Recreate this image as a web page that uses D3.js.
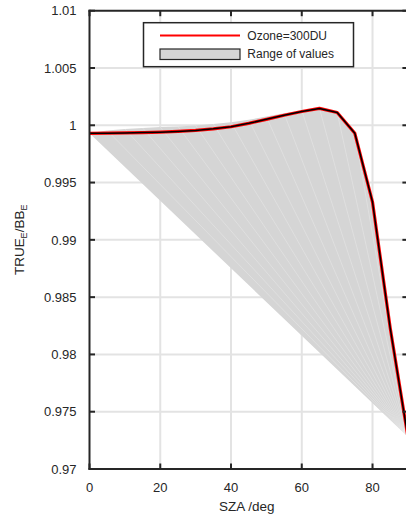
<!DOCTYPE html>
<html>
<head>
<meta charset="utf-8">
<script src="https://cdn.jsdelivr.net/npm/d3@7"></script>
<style>
  html, body { margin: 0; padding: 0; background: #fff; }
  svg { display: block; font-family: "Liberation Sans", Arial, Helvetica, sans-serif; }
</style>
</head>
<body>
<div id="chart"></div>
<script>
// ---- data ----
const sza = [0, 5, 10, 15, 20, 25, 30, 35, 40, 45, 50, 55, 60, 65, 70, 75, 80, 85, 90];
const ozone300 = [0.9993, 0.99931, 0.99933, 0.99936, 0.9994, 0.99946, 0.99955, 0.99969, 0.99987,
                  1.00017, 1.00052, 1.00088, 1.0012, 1.00147, 1.00112, 0.9993, 0.9933, 0.9823, 0.9728];
const rangeUpper = [0.9993, 0.99955, 0.99968, 0.99977, 0.99984, 0.9999, 0.99999, 1.00011, 1.00027,
                    1.00049, 1.00076, 1.00104, 1.0013, 1.00149, 1.00112, 0.9993, 0.9933, 0.9823, 0.9728];
const rangeLowerSza = [0, 90];
const rangeLower = [0.9993, 0.9728];
const xTicks = [0, 20, 40, 60, 80];
const yTicks = [0.97, 0.975, 0.98, 0.985, 0.99, 0.995, 1, 1.005, 1.01];
const yTickLabels = ["0.97", "0.975", "0.98", "0.985", "0.99", "0.995", "1", "1.005", "1.01"];
const legendLabels = ["Ozone=300DU", "Range of values"];

(function () {
// ---- layout ----
const W = 406, H = 517;
const pL = 89.5, pR = 407.9, pT = 10.7, pB = 469;
const axisColor = "#262626", gridColor = "#e3e3e3", fillColor = "#d5d5d5";

const x = d3.scaleLinear().domain([0, 90]).range([pL, pR]);
const y = d3.scaleLinear().domain([0.97, 1.01]).range([pB, pT]);

const svg = d3.select("#chart").append("svg").attr("width", W).attr("height", H);
svg.append("defs").append("clipPath").attr("id", "clip")
  .append("rect").attr("x", pL).attr("y", pT).attr("width", pR - pL).attr("height", pB - pT);

// grid
const grid = svg.append("g");
grid.selectAll(".gx").data(xTicks.filter(d => d > 0)).enter().append("line")
  .attr("x1", d => x(d)).attr("x2", d => x(d)).attr("y1", pT).attr("y2", pB)
  .attr("stroke", gridColor).attr("stroke-width", 2);
grid.selectAll(".gy").data(yTicks.filter(d => d > 0.97 && d < 1.01)).enter().append("line")
  .attr("x1", pL).attr("x2", pR).attr("y1", d => y(d)).attr("y2", d => y(d))
  .attr("stroke", gridColor).attr("stroke-width", 2);

const plot = svg.append("g").attr("clip-path", "url(#clip)");

// range polygon
const upperPts = sza.map((s, i) => [s, rangeUpper[i]]);
const lowerPts = rangeLowerSza.map((s, i) => [s, rangeLower[i]]).reverse();
const poly = upperPts.concat(lowerPts);
const line = d3.line().x(d => x(d[0])).y(d => y(d[1]));
plot.append("path").attr("d", line(poly) + "Z").attr("fill", fillColor).attr("stroke", "none");

// triangulation seams (fan from last lower vertex)
const apex = [rangeLowerSza[rangeLowerSza.length - 1], rangeLower[rangeLower.length - 1]];
plot.selectAll(".seam").data(upperPts.slice(1, upperPts.length - 1)).enter().append("line")
  .attr("x1", x(apex[0])).attr("y1", y(apex[1]))
  .attr("x2", d => x(d[0])).attr("y2", d => y(d[1]))
  .attr("stroke", "#ffffff").attr("stroke-opacity", 0.35).attr("stroke-width", 0.7);

// ozone curve
const ozPts = sza.map((s, i) => [s, ozone300[i]]);
plot.append("path").attr("d", line(ozPts)).attr("fill", "none")
  .attr("stroke", "#ff0000").attr("stroke-width", 3.2).attr("stroke-linejoin", "round");
plot.append("path").attr("d", line(ozPts)).attr("fill", "none")
  .attr("stroke", "#000000").attr("stroke-width", 1.5).attr("stroke-linejoin", "round");

// axes (box with inward ticks)
const tickLen = 5.5;
const axes = svg.append("g").attr("stroke", axisColor).attr("stroke-width", 2);
axes.append("line").attr("x1", pL).attr("x2", pL).attr("y1", pT - 1).attr("y2", pB + 1);
axes.append("line").attr("x1", pR).attr("x2", pR).attr("y1", pT - 1).attr("y2", pB + 1);
axes.append("line").attr("x1", pL - 1).attr("x2", pR + 1).attr("y1", pT).attr("y2", pT);
axes.append("line").attr("x1", pL - 1).attr("x2", pR + 1).attr("y1", pB).attr("y2", pB);
xTicks.forEach(t => {
  axes.append("line").attr("x1", x(t)).attr("x2", x(t)).attr("y1", pB).attr("y2", pB - tickLen);
  axes.append("line").attr("x1", x(t)).attr("x2", x(t)).attr("y1", pT).attr("y2", pT + tickLen);
});
yTicks.forEach(t => {
  axes.append("line").attr("x1", pL).attr("x2", pL + tickLen).attr("y1", y(t)).attr("y2", y(t));
  axes.append("line").attr("x1", pR).attr("x2", pR - tickLen).attr("y1", y(t)).attr("y2", y(t));
});

// tick labels
const tickFont = 13;
svg.selectAll(".xl").data(xTicks).enter().append("text")
  .attr("x", d => x(d)).attr("y", 491.5).attr("text-anchor", "middle")
  .attr("font-size", tickFont).attr("fill", axisColor).text(d => d);
svg.selectAll(".yl").data(yTicks).enter().append("text")
  .attr("x", 76.5).attr("y", d => y(d)).attr("dy", "0.36em").attr("text-anchor", "end")
  .attr("font-size", tickFont).attr("fill", axisColor).text((d, i) => yTickLabels[i]);

// axis titles
svg.append("text").attr("x", (pL + pR) / 2 - 2).attr("y", 511).attr("text-anchor", "middle")
  .attr("font-size", 13.5).attr("fill", axisColor).text("SZA /deg");
const yt = svg.append("text").attr("transform", `translate(23.5,${(pT + pB) / 2}) rotate(-90)`)
  .attr("text-anchor", "middle").attr("font-size", 13.5).attr("fill", axisColor);
yt.append("tspan").text("TRUE");
yt.append("tspan").attr("font-size", 9).attr("dy", 3.5).text("E");
yt.append("tspan").attr("dy", -3.5).text("/BB");
yt.append("tspan").attr("font-size", 9).attr("dy", 3.5).text("E");

// legend
const lg = svg.append("g");
lg.append("rect").attr("x", 143.5).attr("y", 22.7).attr("width", 210).attr("height", 44)
  .attr("fill", "#fff").attr("stroke", axisColor).attr("stroke-width", 1.5);
lg.append("line").attr("x1", 160).attr("x2", 240).attr("y1", 35.5).attr("y2", 35.5)
  .attr("stroke", "#ff0000").attr("stroke-width", 2.2);
lg.append("rect").attr("x", 160).attr("y", 49).attr("width", 80).attr("height", 10.5)
  .attr("fill", fillColor).attr("stroke", axisColor).attr("stroke-width", 1.2);
lg.append("text").attr("x", 247.3).attr("y", 39.7).attr("font-size", 12).attr("fill", axisColor).text(legendLabels[0]);
lg.append("text").attr("x", 247.3).attr("y", 58.3).attr("font-size", 12).attr("fill", axisColor).text(legendLabels[1]);
})();
</script>
</body>
</html>
